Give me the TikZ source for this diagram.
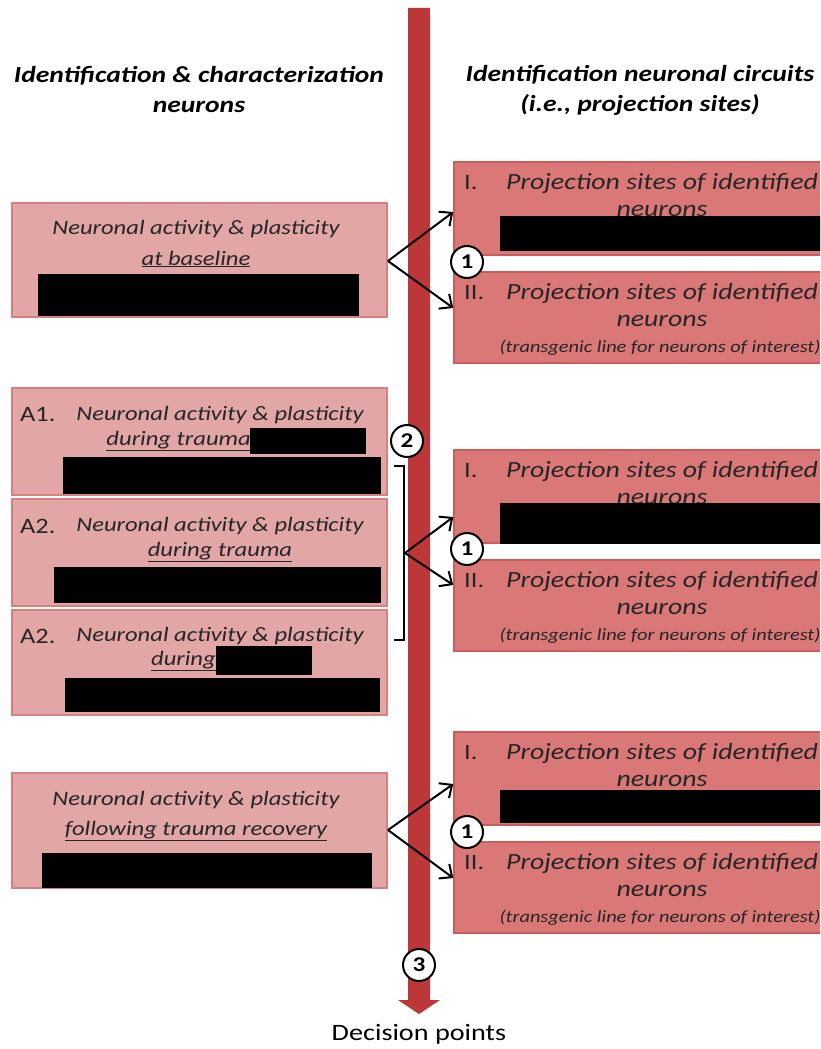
\documentclass[tikz,border=0pt]{standalone}
\usepackage{fontspec}
\setmainfont{Carlito}[FakeStretch=1.2]
\usetikzlibrary{arrows.meta,calc}
\definecolor{leftfill}{RGB}{226,166,166}
\definecolor{leftdraw}{RGB}{216,128,128}
\definecolor{rightfill}{RGB}{218,120,120}
\definecolor{rightdraw}{RGB}{204,92,92}
\definecolor{arrowred}{RGB}{188,56,56}
\definecolor{txt}{RGB}{38,38,38}
\tikzset{
  lbox/.style={rectangle, draw=leftdraw, fill=leftfill, line width=1.5pt, inner sep=0pt},
  rbox/.style={rectangle, draw=rightdraw, fill=rightfill, line width=1.5pt, inner sep=0pt},
  redact/.style={rectangle, fill=black, draw=none, inner sep=0pt},
  body/.style={inner sep=0pt, text=txt, font=\fontsize{20.5}{25}\selectfont\itshape},
  rbody/.style={inner sep=0pt, text=txt, font=\fontsize{23.2}{28}\selectfont\itshape},
  small/.style={inner sep=0pt, text=txt, font=\fontsize{17}{20}\selectfont\itshape},
  roman/.style={inner sep=0pt, text=txt, font=\fontsize{22}{25}\selectfont},
  header/.style={inner sep=0pt, text=black, align=center, font=\fontsize{23}{30}\selectfont\bfseries\itshape},
  num/.style={circle, draw=black, fill=white, line width=2pt, minimum size=32pt, inner sep=0pt, font=\fontsize{21}{21}\selectfont\bfseries},
  fork/.style={black, line width=2pt, -{Straight Barb[length=10pt,width=18pt,line width=2pt]}},
  bracket/.style={black, line width=1.6pt},
}
\begin{document}
\begin{tikzpicture}[x=1pt,y=-1pt]
\useasboundingbox (0,0) rectangle (820,1049);
\clip (0,0) rectangle (820,1049);

% timeline arrow
\fill[arrowred] (408,8) -- (430,8) -- (430,1000) -- (440,1000) -- (419,1014) -- (398,1000) -- (408,1000) -- cycle;
\node[inner sep=0pt, text=black, font=\fontsize{23.5}{25}\selectfont] (dp) at (419,1034) {Decision points};

% headers
\node[header] (hl) at (199,90) {Identification \& characterization\\neurons};
\node[header] (hr) at (640,90) {Identification neuronal circuits\\(i.e., projection sites)};

% left boxes
\node[lbox, minimum width=375pt, minimum height=114pt] (b0) at (199.5,260) {};
\node[body] (b0t1) at (196,229) {Neuronal activity \& plasticity};
\node[body] (b0t2) at (196,259) {\underline{at baseline}};
\node[redact, minimum width=321pt, minimum height=42pt] (b0r) at (198.5,295) {};

\node[lbox, minimum width=375pt, minimum height=107pt] (a1) at (199.5,441.5) {};
\node[roman, anchor=west] (a1n) at (20,415) {A1.};
\node[body] (a1t1) at (220,415) {Neuronal activity \& plasticity};
\node[body, anchor=east] (a1t2) at (251,441) {\underline{during trauma}};
\node[redact, minimum width=116pt, minimum height=26pt] (a1r1) at (308,441) {};
\node[redact, minimum width=318pt, minimum height=37pt] (a1r2) at (222,475.5) {};

\node[lbox, minimum width=375pt, minimum height=107pt] (a2) at (199.5,552.5) {};
\node[roman, anchor=west] (a2n) at (20,526) {A2.};
\node[body] (a2t1) at (220,526) {Neuronal activity \& plasticity};
\node[body] (a2t2) at (220,552) {\underline{during trauma}};
\node[redact, minimum width=327pt, minimum height=36pt] (a2r) at (217.5,585) {};

\node[lbox, minimum width=375pt, minimum height=105pt] (a3) at (199.5,662.5) {};
\node[roman, anchor=west] (a3n) at (20,636) {A2.};
\node[body] (a3t1) at (220,636) {Neuronal activity \& plasticity};
\node[body, anchor=east] (a3t2) at (216,661) {\underline{during}};
\node[redact, minimum width=96pt, minimum height=29pt] (a3r1) at (264,660.5) {};
\node[redact, minimum width=315pt, minimum height=34pt] (a3r2) at (222.5,695) {};

\node[lbox, minimum width=375pt, minimum height=115pt] (b4) at (199.5,830.5) {};
\node[body] (b4t1) at (196,800) {Neuronal activity \& plasticity};
\node[body] (b4t2) at (196,831) {\underline{following trauma recovery}};
\node[redact, minimum width=330pt, minimum height=35pt] (b4r) at (207,870.5) {};

% right groups
\foreach \g/\dy in {1/0, 2/288, 3/570} {
  \node[rbox, minimum width=400pt, minimum height=93pt] (g\g i) at (654,208.5+\dy) {};
  \node[rbox, minimum width=400pt, minimum height=91pt] (g\g ii) at (654,317.5+\dy) {};
  \node[roman, anchor=west] (g\g in) at (464,183+\dy) {I.};
  \node[rbody] (g\g it1) at (662,183+\dy) {Projection sites of identified};
  \node[rbody] (g\g it2) at (662,211+\dy) {neurons};
  \node[roman, anchor=west] (g\g iin) at (464,293+\dy) {II.};
  \node[rbody] (g\g iit1) at (662,293+\dy) {Projection sites of identified};
  \node[rbody] (g\g iit2) at (662,321+\dy) {neurons};
  \node[small] (g\g iit3) at (660,348+\dy) {(transgenic line for neurons of interest)};
}
\node[redact, minimum width=330pt, minimum height=35pt] (g1r) at (665,233.5) {};
\node[redact, minimum width=330pt, minimum height=41pt] (g2r) at (665,523.5) {};
\node[redact, minimum width=330pt, minimum height=33pt] (g3r) at (665,806.5) {};

% forks
\coordinate (f1) at (388,261);
\draw[fork] (f1) -- (g1i.west |- 0,212);
\draw[fork] (f1) -- (g1ii.west |- 0,308);
\coordinate (f2) at (405,553);
\draw[fork] (f2) -- (g2i.west |- 0,517);
\draw[fork] (f2) -- (g2ii.west |- 0,585);
\coordinate (f3) at (388,830);
\draw[fork] (f3) -- (g3i.west |- 0,784);
\draw[fork] (f3) -- (g3ii.west |- 0,878);

% bracket
\coordinate (bt) at (394,466);
\coordinate (bb) at (394,640);
\draw[bracket] (bt) -- ++(10,0) |- (bb);

% decision numbers
\node[num] (n1a) at (467,262) {1};
\node[num] (n1b) at (467,549) {1};
\node[num] (n1c) at (467,832) {1};
\node[num] (n2) at (407,441) {2};
\node[num] (n3) at (419,965) {3};
\end{tikzpicture}
\end{document}
